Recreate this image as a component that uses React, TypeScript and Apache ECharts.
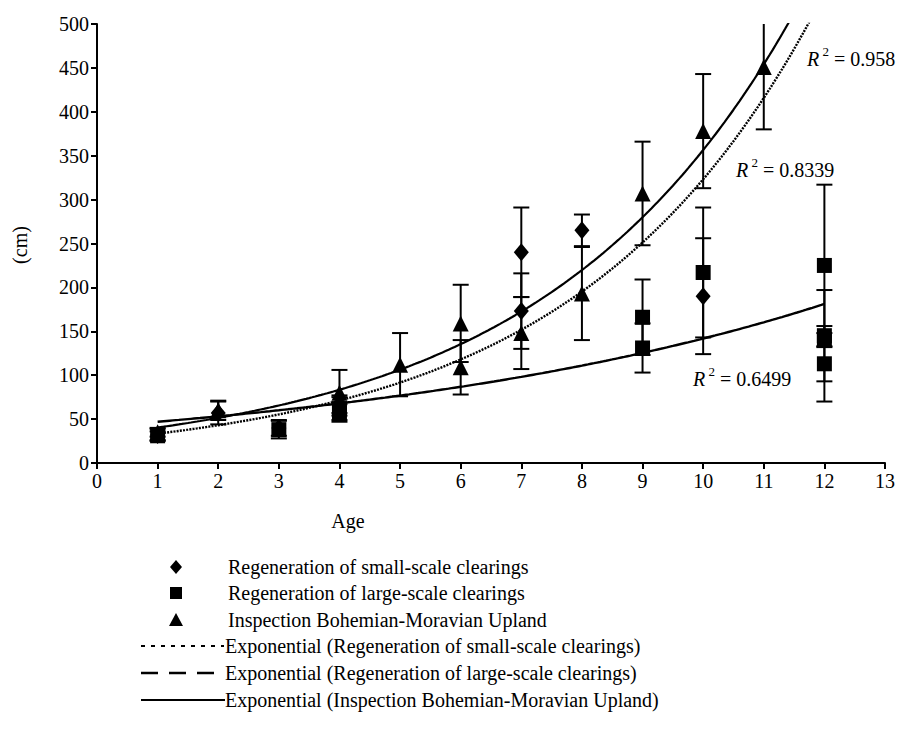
import React, { useEffect, useRef } from "react";
import * as echarts from "echarts";

// Regeneration of small-scale clearings (diamonds)
const smallAge = [1, 2, 3, 4, 7, 7, 8, 10];
const smallHeight = [32, 57, 40, 67, 240, 173, 265, 190];
const smallErr = [7, 13, 9, 10, 51, 43, 18, 66];

// Regeneration of large-scale clearings (squares)
const largeAge = [1, 3, 4, 4, 9, 9, 10, 12, 12, 12, 12];
const largeHeight = [31, 38, 62, 57, 166, 131, 217, 225, 145, 140, 113];
const largeErr = [5, 10, 13, 10, 43, 28, 74, 92, 52, 8, 43];

// Inspection Bohemian-Moravian Upland (triangles)
const inspAge = [1, 2, 4, 5, 6, 6, 7, 8, 9, 10, 11];
const inspHeight = [35, 60, 80, 112, 159, 109, 148, 193, 307, 378, 451];
const inspErr = [5, 11, 26, 36, 44, 31, 41, 53, 59, 65, 71];

// Exponential trend lines y = a * exp(b * x)
const smallTrend = { a: 26.0, b: 0.252 };
const largeTrend = { a: 41.6, b: 0.1226 };
const inspTrend = { a: 31.7, b: 0.242 };
const trendFrom = 1;
const trendTo = 12;

const r2Labels = ["0.958", "0.8339", "0.6499"];
const legendNames = [
  "Regeneration of small-scale clearings",
  "Regeneration of large-scale clearings",
  "Inspection Bohemian-Moravian Upland",
  "Exponential (Regeneration of small-scale clearings)",
  "Exponential (Regeneration of large-scale clearings)",
  "Exponential (Inspection Bohemian-Moravian Upland)",
];

const FONT = "Liberation Serif";
const FS = 20;

function points(xs: number[], ys: number[]) {
  return xs.map((x, i) => [x, ys[i]]);
}
function errData(xs: number[], ys: number[], es: number[]) {
  return xs.map((x, i) => [x, ys[i] - es[i], ys[i] + es[i]]);
}
function trend(t: { a: number; b: number }) {
  const out: number[][] = [];
  for (let i = 0; i <= 220; i++) {
    const x = trendFrom + ((trendTo - trendFrom) * i) / 220;
    out.push([x, t.a * Math.exp(t.b * x)]);
  }
  return out;
}

function errSeries(data: number[][]) {
  return {
    type: "custom",
    clip: true,
    z: 2,
    data,
    renderItem: (params: any, api: any) => {
      const x = api.value(0);
      const lo = api.coord([x, api.value(1)]);
      const hi = api.coord([x, api.value(2)]);
      const half = 8;
      const st = { stroke: "#000", lineWidth: 2 };
      return {
        type: "group",
        children: [
          { type: "line", shape: { x1: hi[0], y1: hi[1], x2: lo[0], y2: lo[1] }, style: st },
          { type: "line", shape: { x1: hi[0] - half, y1: hi[1], x2: hi[0] + half, y2: hi[1] }, style: st },
          { type: "line", shape: { x1: lo[0] - half, y1: lo[1], x2: lo[0] + half, y2: lo[1] }, style: st },
        ],
      };
    },
  };
}

function r2Text(value: string, x: number, y: number) {
  return {
    type: "text",
    x,
    y,
    style: {
      text: "{r|R}{s| 2}{n| = " + value + "}",
      rich: {
        r: { fontFamily: FONT, fontSize: FS, fontStyle: "italic", fill: "#000", lineHeight: 24, verticalAlign: "bottom" },
        s: { fontFamily: FONT, fontSize: 13, fill: "#000", verticalAlign: "top", lineHeight: 24 },
        n: { fontFamily: FONT, fontSize: FS, fill: "#000", lineHeight: 24, verticalAlign: "bottom" },
      },
      verticalAlign: "middle",
    },
  };
}

export default function App() {
  const ref = useRef<HTMLDivElement>(null);
  useEffect(() => {
    if (!ref.current) return;
    const chart = echarts.init(ref.current, null, { renderer: "svg" });
    const axisCommon = {
      axisLine: { show: true, lineStyle: { color: "#000", width: 2 } },
      axisTick: { show: true, length: 6, lineStyle: { color: "#000", width: 2 } },
      axisLabel: { color: "#000", fontFamily: FONT, fontSize: FS, margin: 8 },
      splitLine: { show: false },
    };
    const legendX = 176;
    const textX = 228;
    const rowY = [567, 593, 620, 646, 673, 700];
    const legendText = (i: number, x: number) => ({
      type: "text",
      x,
      y: rowY[i],
      style: { text: legendNames[i], fontFamily: FONT, fontSize: FS, fill: "#000", verticalAlign: "middle" },
    });
    chart.setOption({
      animation: false,
      backgroundColor: "#fff",
      textStyle: { fontFamily: FONT },
      grid: { left: 97, top: 24, width: 788, height: 439, containLabel: false },
      xAxis: { type: "value", min: 0, max: 13, interval: 1, ...axisCommon },
      yAxis: { type: "value", min: 0, max: 500, interval: 50, ...axisCommon },
      series: [
        errSeries(errData(smallAge, smallHeight, smallErr)),
        errSeries(errData(largeAge, largeHeight, largeErr)),
        errSeries(errData(inspAge, inspHeight, inspErr)),
        {
          type: "line",
          data: trend(smallTrend),
          showSymbol: false,
          z: 3,
          lineStyle: { color: "#000", width: 2.4, type: [2, 1.2] },
        },
        {
          type: "line",
          data: trend(largeTrend),
          showSymbol: false,
          z: 3,
          lineStyle: { color: "#000", width: 2.4, type: "solid" },
        },
        {
          type: "line",
          data: trend(inspTrend),
          showSymbol: false,
          z: 3,
          lineStyle: { color: "#000", width: 2.2, type: "solid" },
        },
        {
          type: "scatter",
          data: points(smallAge, smallHeight),
          symbol: "diamond",
          symbolSize: [15, 18],
          itemStyle: { color: "#000", opacity: 1 },
          z: 4,
        },
        {
          type: "scatter",
          data: points(largeAge, largeHeight),
          symbol: "rect",
          symbolSize: 15,
          itemStyle: { color: "#000", opacity: 1 },
          z: 4,
        },
        {
          type: "scatter",
          data: points(inspAge, inspHeight),
          symbol: "triangle",
          symbolSize: [16, 16],
          itemStyle: { color: "#000", opacity: 1 },
          z: 4,
        },
      ],
      graphic: [
        {
          type: "text",
          x: 348,
          y: 521,
          style: { text: "Age", fontFamily: FONT, fontSize: FS, fill: "#000", align: "center", verticalAlign: "middle" },
        },
        {
          type: "text",
          x: 20,
          y: 245,
          rotation: Math.PI / 2,
          style: { text: "(cm)", fontFamily: FONT, fontSize: FS, fill: "#000", align: "center", verticalAlign: "middle" },
        },
        r2Text(r2Labels[0], 807, 57),
        r2Text(r2Labels[1], 736, 168),
        r2Text(r2Labels[2], 693, 377),
        {
          type: "polygon",
          shape: { points: [[legendX, rowY[0] - 7], [legendX + 6, rowY[0]], [legendX, rowY[0] + 7], [legendX - 6, rowY[0]]] },
          style: { fill: "#000" },
        },
        { type: "rect", shape: { x: legendX - 6, y: rowY[1] - 6, width: 12, height: 12 }, style: { fill: "#000" } },
        {
          type: "polygon",
          shape: { points: [[legendX, rowY[2] - 7], [legendX + 7, rowY[2] + 6], [legendX - 7, rowY[2] + 6]] },
          style: { fill: "#000" },
        },
        { type: "line", shape: { x1: 141, y1: rowY[3], x2: 224, y2: rowY[3] }, style: { stroke: "#000", lineWidth: 2, lineDash: [4, 6] } },
        { type: "line", shape: { x1: 141, y1: rowY[4], x2: 223, y2: rowY[4] }, style: { stroke: "#000", lineWidth: 2.5, lineDash: [17, 11] } },
        { type: "line", shape: { x1: 141, y1: rowY[5], x2: 225, y2: rowY[5] }, style: { stroke: "#000", lineWidth: 2 } },
        legendText(0, textX),
        legendText(1, textX),
        legendText(2, textX),
        legendText(3, 225),
        legendText(4, 225),
        legendText(5, 225),
      ],
    });
    return () => chart.dispose();
  }, []);
  return <div ref={ref} style={{ position: "absolute", left: 0, top: 0, width: 917, height: 740 }} />;
}
